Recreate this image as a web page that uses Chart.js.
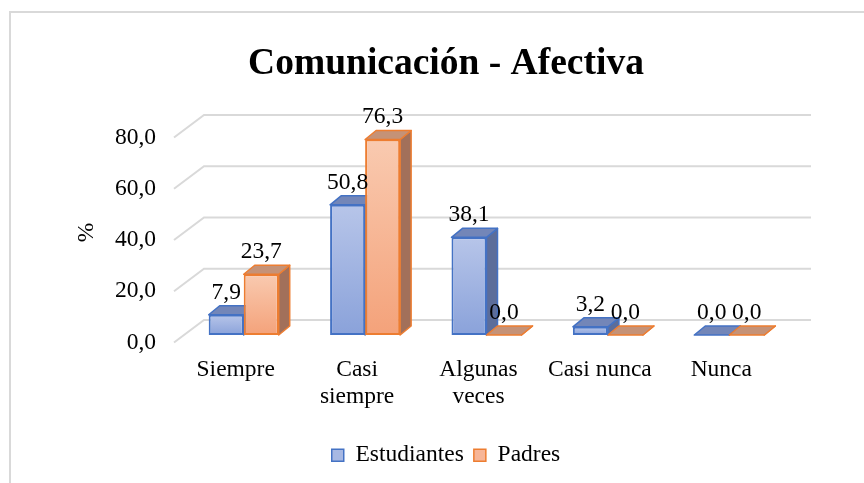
<!DOCTYPE html>
<html>
<head>
<meta charset="utf-8">
<title>Comunicación - Afectiva</title>
<script src="https://cdn.jsdelivr.net/npm/chart.js@4/dist/chart.umd.min.js"></script>
<style>
    html, body { margin: 0; padding: 0; background: #fff; }
    #wrap { position: relative; width: 864px; height: 483px; }
</style>
</head>
<body>
<div id="wrap"><canvas id="myBarChart" width="864" height="483"></canvas></div>
<script>
// -------------------------------------------------------------------------- Data

const categories = [['Siempre'], ['Casi', 'siempre'], ['Algunas', 'veces'], ['Casi nunca'], ['Nunca']]
const estudiantes = [7.9, 50.8, 38.1, 3.2, 0.0]
const padres = [23.7, 76.3, 0.0, 0.0, 0.0]
const yTicks = [0, 20, 40, 60, 80]

// -------------------------------------------------------------------------- Styles

const blue = { light: '#b7c5e9', dark: '#8aa2da', border: '#4472c4', top: '#7386b8', side: '#5c6d9a', legend: '#a7b8e3' }
const orange = { light: '#f9cab0', dark: '#f4a27a', border: '#ed7d31', top: '#c59277', side: '#a2705a', legend: '#f7b698' }
const gridColor = '#d9d9d9'

// depth of a bar (side / top face) and of the floor / back wall
const DX = 11
const DY = -9
const FRONT = { x: -9, y: 7.5 }
const BACK = { x: 21, y: -15 }

Chart.defaults.font.family = 'Liberation Serif'
Chart.defaults.font.size = 23.5
Chart.defaults.color = '#000'

const fmt = v => Number(v).toFixed(1).replace('.', ',')

function barGradient(context, c) {
    const chart = context.chart
    const y = chart.scales.y
    if (!y || context.raw === undefined) return c.light
    const top = y.getPixelForValue(context.raw)
    const base = y.getPixelForValue(0)
    if (base - top < 1) return c.dark
    const g = chart.ctx.createLinearGradient(0, top, 0, base)
    g.addColorStop(0, c.light)
    g.addColorStop(1, c.dark)
    return g
}

// -------------------------------------------------------------------------- 3D plugin

const chart3d = {
    id: 'chart3d',
    beforeDraw(chart) {
        const ctx = chart.ctx
        ctx.save()
        ctx.strokeStyle = gridColor
        ctx.lineWidth = 2
        ctx.beginPath()
        ctx.moveTo(10, chart.height)
        ctx.lineTo(10, 12)
        ctx.lineTo(chart.width, 12)
        ctx.stroke()
        ctx.restore()
    },
    afterLayout(chart) {
        // nothing moved, layout comes from padding / afterFit
    },
    beforeDatasetsDraw(chart) {
        const ctx = chart.ctx
        const area = chart.chartArea
        const y = chart.scales.y
        ctx.save()
        // floor + back wall gridlines
        ctx.strokeStyle = gridColor
        ctx.lineWidth = 2
        yTicks.forEach(v => {
            const py = y.getPixelForValue(v)
            ctx.beginPath()
            ctx.moveTo(area.left + FRONT.x, py + FRONT.y)
            ctx.lineTo(area.left + BACK.x, py + BACK.y)
            ctx.lineTo(area.right + BACK.x, py + BACK.y)
            ctx.stroke()
        })
        // side and top faces, the front faces are drawn by Chart.js on top
        const styles = [blue, orange]
        chart.data.datasets.forEach((ds, di) => {
            const c = styles[di]
            chart.getDatasetMeta(di).data.forEach(bar => {
                const p = bar.getProps(['x', 'y', 'base', 'width'], true)
                const x0 = p.x - p.width / 2
                const x1 = p.x + p.width / 2
                ctx.lineWidth = 1.5
                ctx.lineJoin = 'round'
                ctx.strokeStyle = c.border
                // side
                ctx.beginPath()
                ctx.moveTo(x1, p.y)
                ctx.lineTo(x1 + DX, p.y + DY)
                ctx.lineTo(x1 + DX, p.base + DY)
                ctx.lineTo(x1, p.base)
                ctx.closePath()
                ctx.fillStyle = c.side
                ctx.fill()
                ctx.stroke()
                // top
                ctx.beginPath()
                ctx.moveTo(x0, p.y)
                ctx.lineTo(x1, p.y)
                ctx.lineTo(x1 + DX, p.y + DY)
                ctx.lineTo(x0 + DX, p.y + DY)
                ctx.closePath()
                ctx.fillStyle = c.top
                ctx.fill()
                ctx.stroke()
            })
        })
        ctx.restore()
    },
    afterDatasetsDraw(chart) {
        const ctx = chart.ctx
        ctx.save()
        ctx.font = '23.5px "Liberation Serif"'
        ctx.fillStyle = '#000'
        ctx.textAlign = 'center'
        ctx.textBaseline = 'alphabetic'
        chart.data.datasets.forEach((ds, di) => {
            chart.getDatasetMeta(di).data.forEach((bar, i) => {
                const p = bar.getProps(['x', 'y'], true)
                ctx.fillText(fmt(ds.data[i]), p.x, p.y + DY - 7)
            })
        })
        ctx.restore()
    }
}

// -------------------------------------------------------------------------- Bar Chart Config

const dataBarChart = {
    labels: categories,
    datasets: [{
        label: 'Estudiantes',
        data: estudiantes,
        backgroundColor: ctx => barGradient(ctx, blue),
        borderColor: blue.border,
        borderWidth: 2,
        borderSkipped: false
    }, {
        label: 'Padres',
        data: padres,
        backgroundColor: ctx => barGradient(ctx, orange),
        borderColor: orange.border,
        borderWidth: 2,
        borderSkipped: false
    }]
}

const configBarChart = {
    type: 'bar',
    data: dataBarChart,
    plugins: [chart3d],
    options: {
        responsive: false,
        animation: false,
        categoryPercentage: 0.577,
        barPercentage: 1,
        layout: {
            padding: { top: 14, left: 28, right: 0, bottom: 6 }
        },
        plugins: {
            title: {
                display: true,
                text: 'Comunicación - Afectiva',
                font: { size: 37.5, weight: 'bold' },
                color: '#000',
                padding: { top: 28, bottom: 43 }
            },
            legend: {
                position: 'bottom',
                labels: {
                    boxWidth: 12,
                    boxHeight: 12,
                    padding: 10,
                    font: { size: 23.5 },
                    generateLabels: chart => [blue, orange].map((c, i) => ({
                        text: chart.data.datasets[i].label,
                        fillStyle: c.legend,
                        strokeStyle: c.border,
                        lineWidth: 1.5,
                        fontColor: '#000',
                        hidden: false,
                        datasetIndex: i
                    }))
                }
            },
            tooltip: { enabled: false }
        },
        scales: {
            x: {
                grid: { display: false, drawTicks: false },
                border: { display: false },
                ticks: {
                    padding: 21.5,
                    labelOffset: -8,
                    maxRotation: 0,
                    autoSkip: false,
                    font: { size: 23.5, lineHeight: 1.15 }
                },
                afterFit: s => { s.height = 98.5 }
            },
            y: {
                min: 0,
                max: 80,
                grid: { display: false, drawTicks: false },
                border: { display: false },
                afterBuildTicks: s => { s.ticks = yTicks.map(v => ({ value: v })) },
                ticks: {
                    padding: 27,
                    labelOffset: 7.5,
                    callback: v => fmt(v)
                },
                title: {
                    display: true,
                    text: '%',
                    font: { size: 23.5, lineHeight: 1.15 },
                    padding: { top: 45.5, bottom: 0 }
                },
                afterFit: s => { s.width = 155 }
            },
            y2: {
                position: 'right',
                display: true,
                grid: { display: false, drawTicks: false },
                border: { display: false },
                ticks: { display: false },
                afterFit: s => { s.width = 74 }
            }
        }
    }
}

// -------------------------------------------------------------------------- Render Chart
let myBarChart = new Chart(
    document.getElementById('myBarChart'),
    configBarChart
)
</script>
</body>
</html>
